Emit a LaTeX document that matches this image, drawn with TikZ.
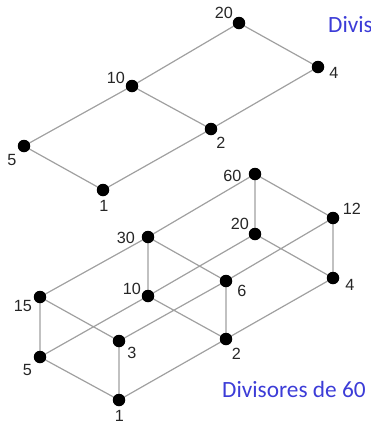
\documentclass[tikz,border=0pt]{standalone}
\usepackage{fontspec}
\setmainfont{Liberation Sans}
\newfontfamily\titlefont{Carlito}
\definecolor{edgegray}{RGB}{160,160,160}
\definecolor{titleblue}{RGB}{60,60,215}
\tikzset{
  vtx/.style={circle,fill=black,inner sep=0pt,minimum size=12.5pt},
  lbl/.style={inner sep=0pt,anchor=center,font=\fontsize{16.2}{16.2}\selectfont,text=black!85},
  edge/.style={draw=edgegray,line width=1.2pt},
  ttl/.style={inner sep=0pt,anchor=base west,text=titleblue,font=\titlefont\fontsize{23.3}{23.3}\selectfont}
}
\begin{document}
\begin{tikzpicture}[x=1pt,y=-1pt]
\useasboundingbox (0,0) rectangle (371,424);
% top lattice: divisors of 20
\coordinate (a20) at (239,23);
\coordinate (a4) at (318,67);
\coordinate (a10) at (132,86);
\coordinate (a2) at (211,129);
\coordinate (a5) at (24,146);
\coordinate (a1) at (103,190);
\draw[edge] (a20) -- (a10) (a20) -- (a4) (a10) -- (a5) (a10) -- (a2)
  (a4) -- (a2) (a5) -- (a1) (a2) -- (a1);
\foreach \n in {a20,a4,a10,a2,a5,a1} \node[vtx] at (\n) {};
\node[lbl] (la20) at (224,13) {20};
\node[lbl] (la4) at (334,73) {4};
\node[lbl] (la10) at (116,77.5) {10};
\node[lbl] (la2) at (221,142.5) {2};
\node[lbl] (la5) at (12,160) {5};
\node[lbl] (la1) at (104,206) {1};
\node[ttl] (t20) at (328,32) {Divis};
% bottom lattice: divisors of 60
\coordinate (b60) at (255,174);
\coordinate (b12) at (333,218);
\coordinate (b30) at (148,237);
\coordinate (b20) at (255,234);
\coordinate (b6) at (226,281);
\coordinate (b4) at (333,278);
\coordinate (b15) at (40,297);
\coordinate (b10) at (148,296);
\coordinate (b3) at (119,341);
\coordinate (b2) at (226,339);
\coordinate (b5) at (40,357);
\coordinate (b1) at (119,400);
\draw[edge] (b1) -- (b2) (b1) -- (b3) (b1) -- (b5)
  (b2) -- (b4) (b2) -- (b6) (b2) -- (b10)
  (b3) -- (b6) (b3) -- (b15)
  (b5) -- (b10) (b5) -- (b15)
  (b4) -- (b12) (b4) -- (b20)
  (b6) -- (b12) (b6) -- (b30)
  (b10) -- (b20) (b10) -- (b30)
  (b15) -- (b30)
  (b12) -- (b60) (b20) -- (b60) (b30) -- (b60);
\foreach \n in {b60,b12,b30,b20,b6,b4,b15,b10,b3,b2,b5,b1} \node[vtx] at (\n) {};
\node[lbl] (lb60) at (232.5,175.5) {60};
\node[lbl] (lb12) at (352,208.5) {12};
\node[lbl] (lb30) at (126,237.5) {30};
\node[lbl] (lb20) at (240,224) {20};
\node[lbl] (lb6) at (242,290.5) {6};
\node[lbl] (lb4) at (350,284.5) {4};
\node[lbl] (lb15) at (23,306) {15};
\node[lbl] (lb10) at (132,288.5) {10};
\node[lbl] (lb3) at (132,352.5) {3};
\node[lbl] (lb2) at (236.5,353.5) {2};
\node[lbl] (lb5) at (27.5,370) {5};
\node[lbl] (lb1) at (119.5,415.5) {1};
\node[ttl] (t60) at (222,397) {Divisores de 60};
\end{tikzpicture}
\end{document}
